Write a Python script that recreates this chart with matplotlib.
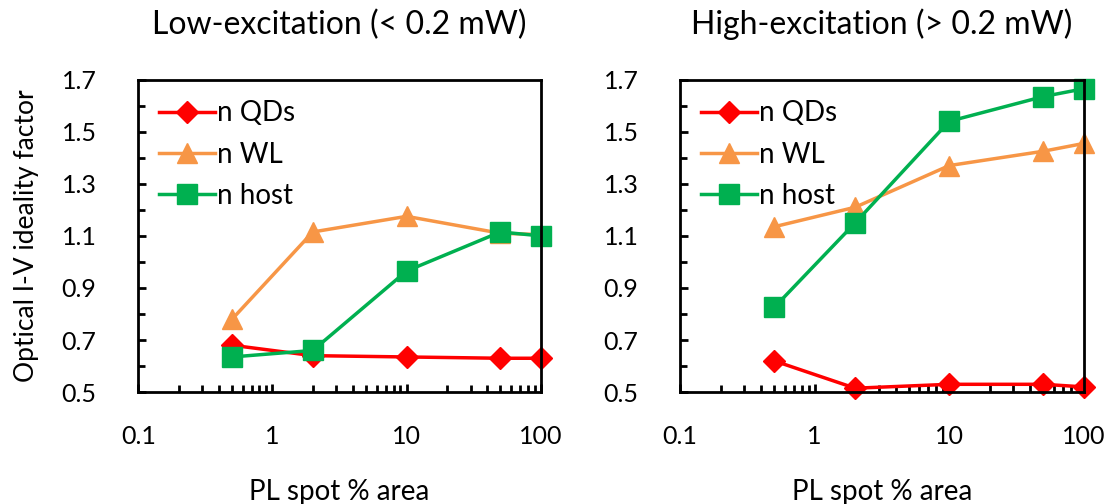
import numpy as np
import matplotlib
matplotlib.use("Agg")
import matplotlib.pyplot as plt
from matplotlib.ticker import FixedLocator, LogLocator, NullFormatter, FormatStrFormatter, FuncFormatter

plt.rcParams["font.family"] = ["Lato", "DejaVu Sans"]

# ---------------- data ----------------
area = [0.5, 2, 10, 50, 100]
titles = ["Low-excitation (< 0.2 mW)", "High-excitation (> 0.2 mW)"]

low_qd = [0.68, 0.64, 0.635, 0.63, 0.63]
low_wl = [0.78, 1.115, 1.175, 1.11, 1.105]
low_host = [0.635, 0.66, 0.965, 1.115, 1.10]

high_qd = [0.62, 0.515, 0.53, 0.53, 0.52]
high_wl = [1.135, 1.21, 1.37, 1.425, 1.455]
high_host = [0.825, 1.15, 1.54, 1.635, 1.665]

panels = [(low_qd, low_wl, low_host), (high_qd, high_wl, high_host)]
labels = ["n QDs", "n WL", "n host"]
colors = ["#FF0000", "#F79646", "#00B050"]
markers = ["D", "^", "s"]
msizes = [11, 14, 15]

fig = plt.figure(figsize=(11.15, 5.04), dpi=100)
boxes = [[0.124, 0.222, 0.361, 0.62], [0.610, 0.222, 0.362, 0.62]]

for i, (box, series) in enumerate(zip(boxes, panels)):
    ax = fig.add_axes(box)
    for ys, lab, c, m, ms in zip(series, labels, colors, markers, msizes):
        ax.plot(area, ys, color=c, marker=m, ms=ms, lw=2.5, label=lab, clip_on=False)
    ax.set_xscale("log")
    ax.set_xlim(0.1, 100)
    ax.set_ylim(0.5, 1.7)
    ax.yaxis.set_major_locator(FixedLocator(np.arange(0.5, 1.71, 0.2)))
    ax.yaxis.set_minor_locator(FixedLocator(np.arange(0.6, 1.7, 0.2)))
    ax.yaxis.set_major_formatter(FormatStrFormatter("%.1f"))
    ax.xaxis.set_major_locator(FixedLocator([0.1, 1, 10, 100]))
    ax.xaxis.set_major_formatter(FuncFormatter(lambda v, p: f"{v:g}"))
    ax.xaxis.set_minor_locator(LogLocator(base=10, subs=np.arange(2, 10)))
    ax.xaxis.set_minor_formatter(NullFormatter())
    ax.tick_params(which="both", direction="in", width=2, labelsize=18, top=False, right=False)
    ax.tick_params(which="major", length=6)
    ax.tick_params(which="minor", length=5)
    ax.tick_params(axis="x", pad=24)
    ax.tick_params(axis="y", pad=30)
    for s in ax.spines.values():
        s.set_linewidth(2)
    ax.set_title(titles[i], fontsize=23, pad=33)
    ax.set_xlabel("PL spot % area", fontsize=20, labelpad=22)
    if i == 0:
        ax.set_ylabel("Optical I-V ideality factor", fontsize=19, labelpad=16)
    ax.legend(loc="upper left", frameon=False, fontsize=20, handlelength=2.0,
              handletextpad=0.1, borderaxespad=0.35, labelspacing=0.55)

fig.savefig("out.png", dpi=100)
